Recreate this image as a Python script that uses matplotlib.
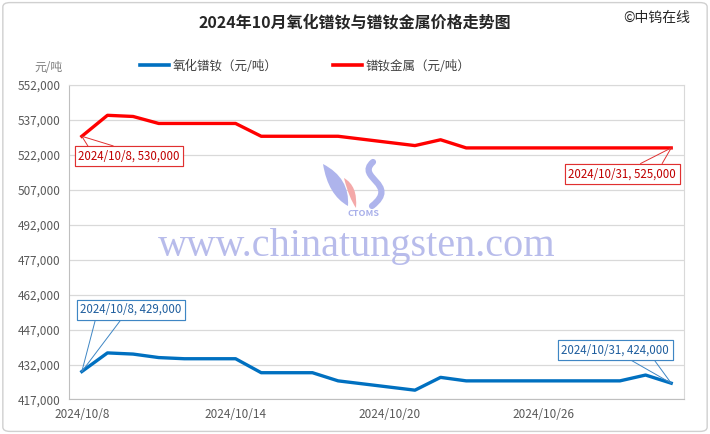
import pandas as pd
import matplotlib
matplotlib.use("Agg")
from matplotlib import pyplot as plt
from matplotlib.patches import FancyBboxPatch, PathPatch
from matplotlib.path import Path

plt.rcParams['font.family'] = ['Noto Sans CJK SC', 'DejaVu Sans']

# trading days of Oct 2024
dates = ['2024-10-08', '2024-10-09', '2024-10-10', '2024-10-11', '2024-10-12',
         '2024-10-14', '2024-10-15', '2024-10-16', '2024-10-17', '2024-10-18',
         '2024-10-21', '2024-10-22', '2024-10-23', '2024-10-24', '2024-10-25',
         '2024-10-28', '2024-10-29', '2024-10-30', '2024-10-31']
oxide = [429000, 437000, 436500, 435000, 434500,
         434500, 428500, 428500, 428500, 425000,
         421000, 426500, 425000, 425000, 425000,
         425000, 425000, 427500, 424000]
metal = [530000, 539000, 538500, 535500, 535500,
         535500, 530000, 530000, 530000, 530000,
         526000, 528500, 525000, 525000, 525000,
         525000, 525000, 525000, 525000]
oxide_name = '氧化镨钕（元/吨）'
metal_name = '镨钕金属（元/吨）'
title = '2024年10月氧化镨钕与镨钕金属价格走势图'
tick_dates = ['2024-10-08', '2024-10-14', '2024-10-20', '2024-10-26']
y_ticks = list(range(417000, 552001, 15000))

blue = '#0070C0'
red = '#FF0000'

x = pd.to_datetime(dates)
xt = pd.to_datetime(tick_dates)

W, H = 710, 434
fig = plt.figure(figsize=(7.1, 4.34), dpi=100)
ax = fig.add_axes([0.0972, 0.0795, 0.8662, 0.7246])

ax.plot(x, oxide, color=blue, lw=2.4, solid_joinstyle='round', zorder=3)
ax.plot(x, metal, color=red, lw=2.4, solid_joinstyle='round', zorder=3)

ax.set_ylim(y_ticks[0], y_ticks[-1])
ax.set_yticks(y_ticks)
ax.set_yticklabels([f'{v:,}' for v in y_ticks])
ax.set_xlim(x[0] - pd.Timedelta(hours=12), x[-1] + pd.Timedelta(hours=12))
ax.set_xticks(xt)
ax.set_xticklabels([f'{d.year}/{d.month}/{d.day}' for d in xt])
ax.tick_params(length=0, labelsize=8.5, colors='#595959', pad=6)
ax.grid(axis='y', color='#d9d9d9', lw=0.9)
for s in ax.spines.values():
    s.set_color('#d9d9d9')
ax.spines['left'].set_color('#bfbfbf')
ax.spines['bottom'].set_color('#bfbfbf')

# callout labels: excel style, two thin lines from the box edge to the point
def callout(i, vals, color, tcolor, off, rels):
    d = x[i]
    for r in rels:
        ax.annotate(f'{d.year}/{d.month}/{d.day}, {vals[i]:,}', xy=(d, vals[i]),
                    xytext=off, textcoords='offset pixels', ha='center', va='center',
                    fontsize=8.3, color=tcolor, zorder=5,
                    bbox=dict(boxstyle='square,pad=0.3', fc='white', ec=color, lw=0.8),
                    arrowprops=dict(arrowstyle='-', color=color, lw=0.7,
                                    shrinkA=0, shrinkB=0, relpos=r))

callout(0, metal, '#E03030', '#C00000', (47, -20), [(0.12, 1), (0.47, 1)])
callout(len(x) - 1, metal, '#E03030', '#C00000', (-49, -26), [(0.6, 1), (0.85, 1)])
callout(0, oxide, '#3E86C4', '#1F5E9E', (49, 62), [(0.16, 0), (0.43, 0)])
callout(len(x) - 1, oxide, '#3E86C4', '#1F5E9E', (-56, 33), [(0.59, 0), (0.84, 0)])

# watermark
fig.text(0.502, 0.433, 'www.chinatungsten.com', family='Liberation Serif',
         fontsize=29, color='#B8BCEB', ha='center', va='center', zorder=0)
fig.text(0.512, 0.508, 'CTOMS', fontsize=6.5, style='italic', weight='bold',
         color='#A9B0EA', ha='center', va='center')

def px(pts):
    return [(a / W, 1 - b / H) for a, b in pts]

C3, C4 = Path.CURVE3, Path.CURVE4
logo = [
    ([(323, 164), (350, 178), (348, 206), (328, 195), (323, 164), (0, 0)],
     [Path.MOVETO, C3, C3, C3, C3, Path.CLOSEPOLY], '#AEB4EC', 'fill'),
    ([(344, 178), (358, 186), (356, 208), (349, 198), (344, 178), (0, 0)],
     [Path.MOVETO, C3, C3, C3, C3, Path.CLOSEPOLY], '#F4A9A9', 'fill'),
    ([(373, 162), (355, 178), (400, 184), (372, 206)],
     [Path.MOVETO, C4, C4, C4], '#AEB4EC', 'stroke'),
]
for verts, codes, col, kind in logo:
    p = Path(px(verts), codes)
    if kind == 'fill':
        pp = PathPatch(p, fc=col, ec='none', transform=fig.transFigure)
    else:
        pp = PathPatch(p, fc='none', ec=col, lw=4.5, capstyle='round',
                       transform=fig.transFigure)
    fig.patches.append(pp)

# title, source, unit
fig.text(0.5, 0.948, title, fontsize=11.5, weight='bold', ha='center', va='center',
         color='#262626')
fig.text(0.925, 0.958, '©中钨在线', fontsize=10, ha='center', va='center',
         color='#262626')
fig.text(0.068, 0.845, '元/吨', fontsize=8.5, ha='center', va='center', color='#7f7f7f')

# legend
leg = ax.legend([plt.Line2D([], [], color=blue, lw=2.6),
                 plt.Line2D([], [], color=red, lw=2.6)],
                [oxide_name, metal_name], ncol=2, frameon=False,
                loc='center', bbox_to_anchor=(0.43, 0.848),
                bbox_transform=fig.transFigure, fontsize=9, handlelength=2.3,
                handletextpad=0.3, columnspacing=4.5)
for t in leg.get_texts():
    t.set_color('#404040')

fig.patches.append(FancyBboxPatch((0.004, 0.006), 0.992, 0.988,
                                  boxstyle='round,pad=0,rounding_size=0.01',
                                  transform=fig.transFigure, fill=False,
                                  ec='#d0d0d0', lw=1.0))

fig.savefig('out.png', dpi=100)
